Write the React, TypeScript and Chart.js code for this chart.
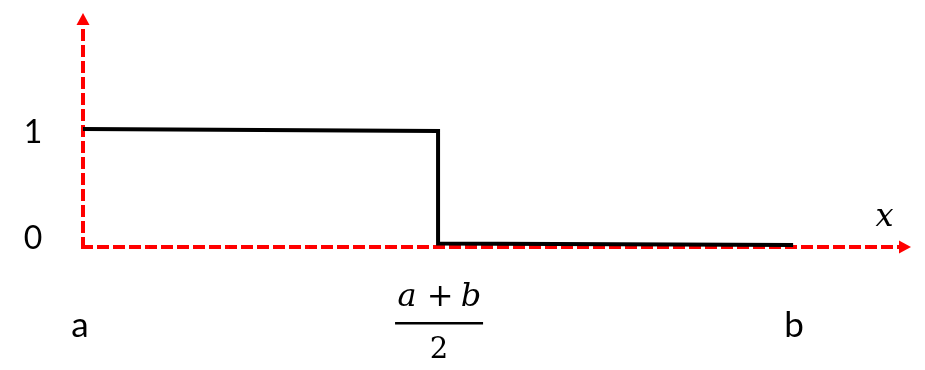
import React, { useEffect, useRef } from "react";
import { Chart, registerables } from "chart.js";

Chart.register(...registerables);

const xValues = [0, 0.5, 0.5, 1];
const yValues = [1, 0.983, 0.03, 0.017];
const yTickValues = [0, 1];
const yTickLabels = ["0", "1"];
const xTickValues = [0, 0.5, 1];
const xTickLabels = ["a", "(a+b)/2", "b"];
const xAxisMax = 1.166;
const yAxisMax = 1.983;

const RED = "#FF0000";
const SANS = "Lato, 'Open Sans', sans-serif";
const SERIF = "'DejaVu Serif', 'Liberation Serif', serif";

const axesPlugin = {
  id: "axesPlugin",
  beforeDatasetsDraw(chart: any) {
    const { ctx, scales } = chart;
    const xs = scales.x;
    const ys = scales.y;
    const x0 = xs.getPixelForValue(0);
    const y0 = ys.getPixelForValue(0);
    const xEnd = xs.getPixelForValue(xAxisMax);
    const yEnd = ys.getPixelForValue(yAxisMax);
    ctx.save();
    ctx.strokeStyle = RED;
    ctx.fillStyle = RED;
    ctx.lineWidth = 4;
    ctx.lineCap = "butt";
    ctx.setLineDash([12, 4]);
    ctx.beginPath();
    ctx.moveTo(x0, y0 + 2);
    ctx.lineTo(x0, yEnd + 11);
    ctx.stroke();
    ctx.beginPath();
    ctx.moveTo(x0 - 2, y0);
    ctx.lineTo(xEnd - 11, y0);
    ctx.stroke();
    ctx.setLineDash([]);
    // arrow heads
    ctx.beginPath();
    ctx.moveTo(x0, yEnd);
    ctx.lineTo(x0 - 6.5, yEnd + 12);
    ctx.lineTo(x0 + 6.5, yEnd + 12);
    ctx.closePath();
    ctx.fill();
    ctx.beginPath();
    ctx.moveTo(xEnd, y0);
    ctx.lineTo(xEnd - 12, y0 - 6.5);
    ctx.lineTo(xEnd - 12, y0 + 6.5);
    ctx.closePath();
    ctx.fill();
    ctx.restore();
  },
  afterDraw(chart: any) {
    const { ctx, scales } = chart;
    const xs = scales.x;
    const ys = scales.y;
    const x0 = xs.getPixelForValue(0);
    const y0 = ys.getPixelForValue(0);
    ctx.save();
    ctx.fillStyle = "#000";
    ctx.textAlign = "center";
    ctx.textBaseline = "alphabetic";
    ctx.font = `32px ${SANS}`;
    yTickValues.forEach((v, i) => {
      const py = ys.getPixelForValue(v);
      ctx.fillText(yTickLabels[i], x0 - 50, py + (v === 1 ? 14 : 2));
    });
    xTickValues.forEach((v, i) => {
      const px = xs.getPixelForValue(v);
      const label = xTickLabels[i];
      if (label.includes("/")) {
        ctx.font = `italic 32px ${SERIF}`;
        ctx.fillText("a", px - 31, y0 + 59);
        ctx.fillText("b", px + 33, y0 + 59);
        ctx.font = `32px ${SERIF}`;
        ctx.fillText("+", px + 2, y0 + 59);
        ctx.font = `29px ${SERIF}`;
        ctx.fillText("2", px + 1, y0 + 111);
        ctx.fillRect(px - 43, y0 + 75, 88, 2.5);
      } else {
        ctx.font = `35px ${SANS}`;
        ctx.fillText(label, px - (v === 0 ? 3 : -1), y0 + 90);
      }
    });
    ctx.font = `italic 32px ${SERIF}`;
    ctx.fillText("x", xs.getPixelForValue(xAxisMax) - 26.5, y0 - 21);
    ctx.restore();
  },
};

export default function App() {
  const ref = useRef<HTMLCanvasElement>(null);
  useEffect(() => {
    if (!ref.current) return;
    const chart = new Chart(ref.current, {
      type: "line",
      data: {
        datasets: [
          {
            data: xValues.map((x, i) => ({ x, y: yValues[i] })),
            borderColor: "#000",
            borderWidth: 4,
            pointRadius: 0,
            fill: false,
            tension: 0,
            clip: false as any,
          },
        ],
      },
      options: {
        animation: false,
        responsive: false,
        maintainAspectRatio: false,
        layout: { padding: { left: 83, right: 14, top: 13, bottom: 123 } },
        plugins: { legend: { display: false }, tooltip: { enabled: false } },
        scales: {
          x: { type: "linear", min: 0, max: xAxisMax, display: false },
          y: { type: "linear", min: 0, max: yAxisMax, display: false },
        },
      },
      plugins: [axesPlugin],
    });
    return () => chart.destroy();
  }, []);
  return (
    <div style={{ position: "absolute", left: 0, top: 0, width: 925, height: 370, background: "#fff" }}>
      <canvas ref={ref} width={925} height={370} />
    </div>
  );
}
